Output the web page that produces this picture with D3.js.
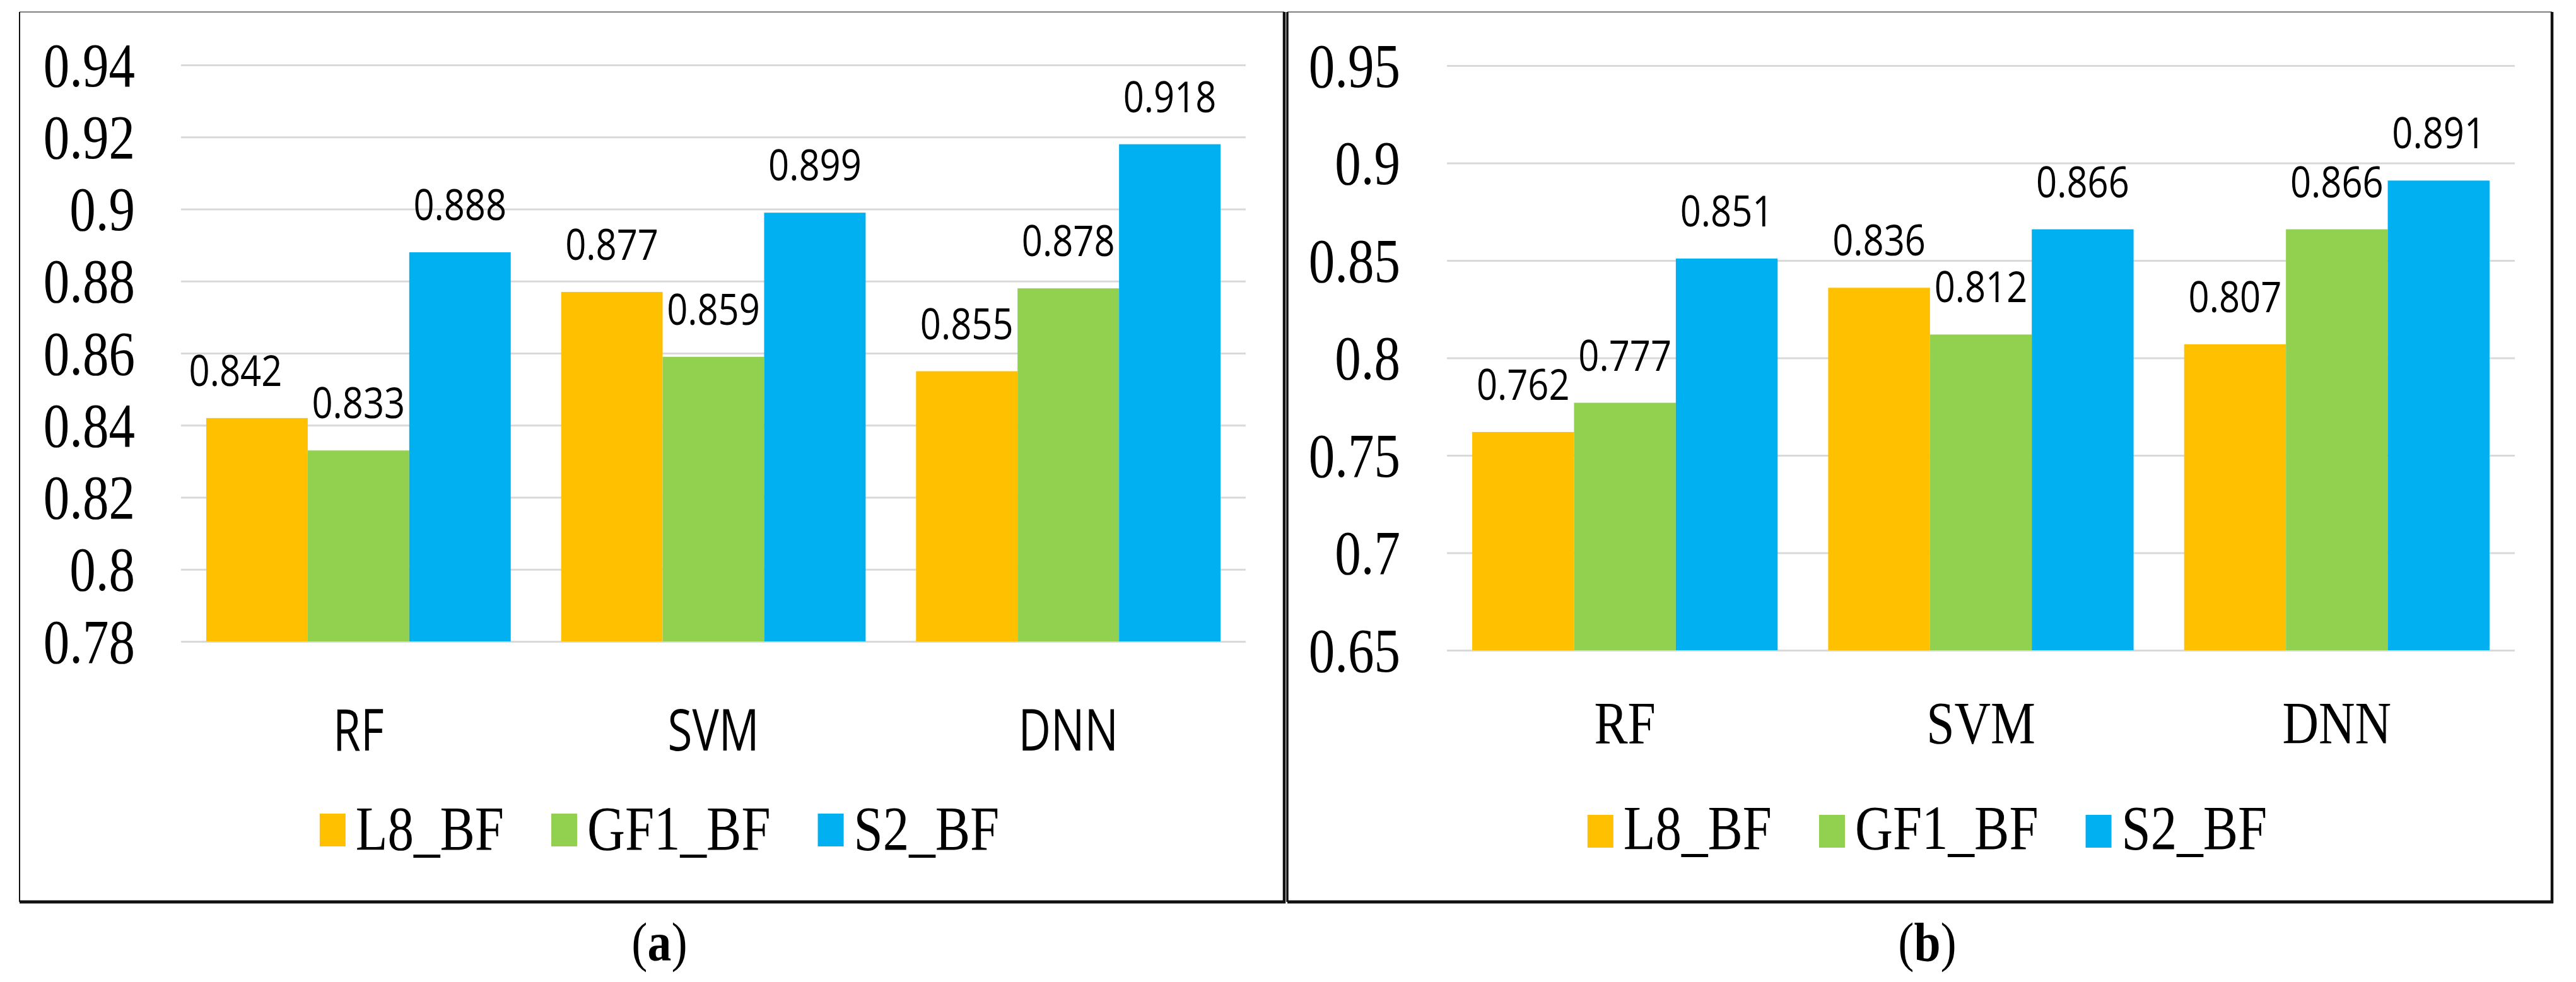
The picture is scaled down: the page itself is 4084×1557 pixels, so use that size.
<!DOCTYPE html>
<html><head><meta charset="utf-8">
<script src="https://cdn.jsdelivr.net/npm/d3@7"></script>
<style>html,body{margin:0;padding:0;background:#fff}</style>
</head><body>
<svg id="chart" width="4084" height="1557" xmlns="http://www.w3.org/2000/svg"></svg>
<script>
// ---------------- data ----------------
const categories = ["RF", "SVM", "DNN"];
const seriesNames = ["L8_BF", "GF1_BF", "S2_BF"];
const seriesColors = ["#FFC000", "#92D050", "#00B0F0"];

// panel (a)
const a_L8_BF  = [0.842, 0.877, 0.855];
const a_GF1_BF = [0.833, 0.859, 0.878];
const a_S2_BF  = [0.888, 0.899, 0.918];
const a_ticks = [0.78, 0.80, 0.82, 0.84, 0.86, 0.88, 0.90, 0.92, 0.94];
const a_tickLabels = ["0.78", "0.8", "0.82", "0.84", "0.86", "0.88", "0.9", "0.92", "0.94"];

// panel (b)
const b_L8_BF  = [0.762, 0.836, 0.807];
const b_GF1_BF = [0.777, 0.812, 0.866];
const b_S2_BF  = [0.851, 0.866, 0.891];
const b_ticks = [0.65, 0.70, 0.75, 0.80, 0.85, 0.90, 0.95];
const b_tickLabels = ["0.65", "0.7", "0.75", "0.8", "0.85", "0.9", "0.95"];

const captions = ["a", "b"];

// ---------------- drawing ----------------
const SERIF = "'Liberation Serif','Times New Roman',serif";
const SANS = "'Open Sans','Noto Sans',sans-serif";
const svg = d3.select("#chart");
svg.append("rect").attr("width", 4084).attr("height", 1557).attr("fill", "#fff");

function txt(g, x, y, s, size, family, sx, anchor, weight) {
  return g.append("text")
    .attr("transform", `translate(${x},${y}) scale(${sx},1)`)
    .attr("text-anchor", anchor || "middle")
    .attr("font-family", family)
    .attr("font-size", size)
    .attr("font-weight", weight || "normal")
    .attr("fill", "#000")
    .text(s);
}

const panels = [
  { series: [a_L8_BF, a_GF1_BF, a_S2_BF], ticks: a_ticks, labels: a_tickLabels,
    xRange: [287, 1975], yRange: [1017, 103], tickGap: 73,
    catY: 1190, catFont: SANS, catSize: 91, catSx: 0.78,
    legY: 1347, markY: 1290, left: 31, right: 2036, caption: captions[0],
    nudge: { "RF|L8_BF": -34 } },
  { series: [b_L8_BF, b_GF1_BF, b_S2_BF], ticks: b_ticks, labels: b_tickLabels,
    xRange: [2294, 3987], yRange: [1031, 104], tickGap: 74,
    catY: 1179, catFont: SERIF, catSize: 96, catSx: 0.83,
    legY: 1346, markY: 1292, left: 2041, right: 4046, caption: captions[1],
    nudge: {} }
];

const TOP = 19, BOTTOM = 1430;

panels.forEach(p => {
  const g = svg.append("g");
  const y = d3.scaleLinear().domain([p.ticks[0], p.ticks[p.ticks.length - 1]]).range(p.yRange);
  const x0 = d3.scaleBand().domain(categories).range(p.xRange).paddingInner(0.142).paddingOuter(0.071);
  const x1 = d3.scaleBand().domain(seriesNames).range([0, x0.bandwidth()]);

  // gridlines + y tick labels
  const axis = d3.axisLeft(y).tickValues(p.ticks)
    .tickFormat(d => p.labels[p.ticks.indexOf(d)])
    .tickSizeInner(-(p.xRange[1] - p.xRange[0])).tickSizeOuter(0).tickPadding(p.tickGap);
  const ag = g.append("g").attr("transform", `translate(${p.xRange[0]},0)`).call(axis);
  ag.select(".domain").remove();
  ag.selectAll(".tick line").attr("stroke", "#d9d9d9").attr("stroke-width", 3);
  ag.selectAll(".tick text").each(function () {
    const t = d3.select(this);
    const xx = +t.attr("x");
    t.attr("x", null).attr("dy", null)
     .attr("transform", `translate(${xx},33) scale(0.83,1)`)
     .attr("font-family", SERIF).attr("font-size", 100)
     .attr("fill", "#000").attr("text-anchor", "end");
  });

  // bars
  const rows = [];
  categories.forEach((c, ci) => seriesNames.forEach((s, si) => rows.push({ c, s, si, v: p.series[si][ci] })));
  g.append("g").selectAll("rect").data(rows).join("rect")
    .attr("x", d => x0(d.c) + x1(d.s))
    .attr("width", x1.bandwidth())
    .attr("y", d => y(d.v))
    .attr("height", d => y(p.ticks[0]) - y(d.v))
    .attr("fill", d => seriesColors[d.si]);

  // value labels
  rows.forEach(d => {
    const nx = p.nudge[d.c + "|" + d.s] || 0;
    txt(g, x0(d.c) + x1(d.s) + x1.bandwidth() / 2 + nx, y(d.v) - 51, d.v.toFixed(3), 67, SANS, 0.865);
  });

  // category labels
  categories.forEach(c => txt(g, x0(c) + x0.bandwidth() / 2, p.catY, c, p.catSize, p.catFont, p.catSx));

  // legend
  const center = (p.left + p.right) / 2 + 12;
  const lg = g.append("g");
  const sx = 0.83, mw = 41, mh = 52, tgap = 16, igap = 75;
  const items = seriesNames.map((s, i) => {
    const t = txt(lg, 0, p.legY, s, 100, SERIF, sx, "start");
    return { t, w: t.node().getComputedTextLength() * sx, i };
  });
  const total = items.reduce((a, it) => a + mw + tgap + it.w, 0) + igap * (items.length - 1);
  let cx = center - total / 2;
  items.forEach(it => {
    lg.append("rect").attr("x", cx).attr("y", p.markY).attr("width", mw).attr("height", mh).attr("fill", seriesColors[it.i]);
    it.t.attr("transform", `translate(${cx + mw + tgap},${p.legY}) scale(${sx},1)`);
    cx += mw + tgap + it.w + igap;
  });

  // panel frame
  const fr = g.append("g").attr("fill", "none");
  fr.append("line").attr("x1", p.left).attr("x2", p.right).attr("y1", TOP).attr("y2", TOP).attr("stroke", "#555").attr("stroke-width", 1.5);
  fr.append("line").attr("x1", p.left).attr("x2", p.left).attr("y1", TOP).attr("y2", BOTTOM).attr("stroke", "#111").attr("stroke-width", p.left < 100 ? 2 : 3.5);
  fr.append("line").attr("x1", p.right).attr("x2", p.right).attr("y1", TOP).attr("y2", BOTTOM + 2).attr("stroke", "#111").attr("stroke-width", 4.5);
  fr.append("line").attr("x1", p.left).attr("x2", p.right + 2).attr("y1", BOTTOM).attr("y2", BOTTOM).attr("stroke", "#111").attr("stroke-width", 5);

  // caption
  const cap = g.append("text")
    .attr("transform", `translate(${center},1523) scale(0.88,1)`)
    .attr("text-anchor", "middle").attr("font-family", SERIF).attr("font-size", 86).attr("fill", "#000");
  cap.append("tspan").text("(");
  cap.append("tspan").attr("font-weight", "bold").text(p.caption);
  cap.append("tspan").text(")");
});
</script>
</body></html>
